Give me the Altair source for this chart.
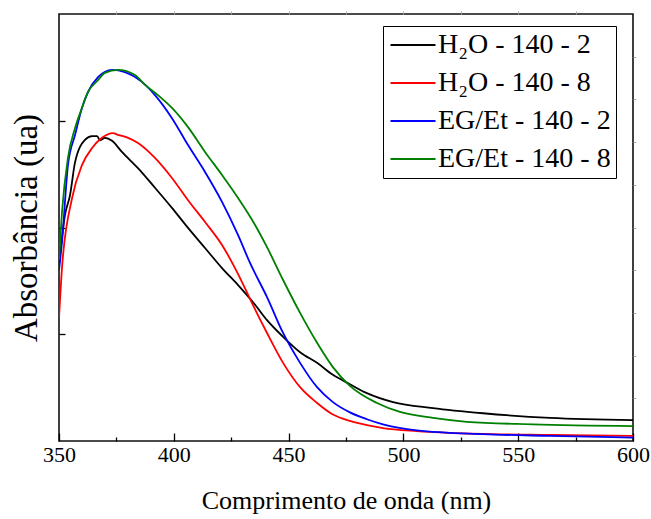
import altair as alt
import pandas as pd

series_names = ["H₂O - 140 - 2", "H₂O - 140 - 8", "EG/Et - 140 - 2", "EG/Et - 140 - 8"]
series_colors = ["#000000", "#FF0000", "#0000FF", "#008000"]

black_nm = [350.0, 352.6, 354.8, 357.0, 361.3, 364.4, 366.6, 367.9, 370.0, 373.1, 377.4, 384.4, 391.8,
            399.2, 406.2, 413.6, 421.0, 428.0, 435.4, 440.6, 447.6, 455.0, 462.4, 469.3, 476.7, 484.1,
            495.5, 512.9, 534.7, 563.9, 600.0]
black_abs = [0.412, 0.529, 0.576, 0.653, 0.705, 0.714, 0.714, 0.704, 0.710, 0.703, 0.677, 0.639, 0.593,
             0.546, 0.499, 0.452, 0.405, 0.365, 0.319, 0.283, 0.244, 0.208, 0.183, 0.155, 0.133, 0.112,
             0.091, 0.077, 0.065, 0.054, 0.049]

red_nm = [350.0, 351.3, 355.7, 360.0, 364.4, 368.7, 373.5, 375.7, 380.1, 384.4, 391.8, 399.2, 406.2,
          413.6, 421.0, 428.0, 434.5, 440.6, 447.6, 455.0, 462.4, 469.3, 476.7, 484.1, 491.1, 505.9,
          520.3, 563.9, 600.0]
red_abs = [0.288, 0.405, 0.569, 0.646, 0.686, 0.710, 0.721, 0.717, 0.710, 0.698, 0.663, 0.616, 0.564,
           0.513, 0.459, 0.391, 0.318, 0.253, 0.183, 0.126, 0.089, 0.062, 0.047, 0.037, 0.030, 0.023,
           0.019, 0.014, 0.012]

blue_nm = [350.0, 351.3, 353.9, 357.0, 360.0, 362.6, 367.0, 373.1, 378.7, 386.1, 391.8, 399.2, 406.2,
           413.6, 421.0, 428.0, 433.2, 440.6, 447.6, 455.0, 462.4, 469.3, 476.7, 484.1, 491.1, 505.9,
           534.7, 563.9, 600.0]
blue_abs = [0.400, 0.466, 0.646, 0.717, 0.780, 0.817, 0.852, 0.869, 0.864, 0.841, 0.810, 0.756, 0.693,
            0.630, 0.560, 0.482, 0.417, 0.337, 0.253, 0.183, 0.126, 0.091, 0.067, 0.051, 0.039, 0.025,
            0.016, 0.012, 0.008]

green_nm = [350.0, 351.3, 353.9, 357.0, 360.0, 362.6, 367.0, 370.0, 375.7, 383.1, 387.5, 393.1, 399.2,
            406.2, 413.6, 421.0, 428.0, 435.4, 440.6, 447.6, 455.0, 462.4, 469.3, 476.7, 488.5, 498.5,
            512.9, 527.6, 556.4, 600.0]
green_abs = [0.424, 0.536, 0.663, 0.733, 0.780, 0.817, 0.845, 0.862, 0.869, 0.857, 0.834, 0.810, 0.780,
             0.735, 0.677, 0.623, 0.569, 0.506, 0.454, 0.377, 0.300, 0.230, 0.173, 0.129, 0.089, 0.068,
             0.054, 0.045, 0.039, 0.035]

x_major = [350, 400, 450, 500, 550, 600]
x_minor = [375, 425, 475, 525, 575]
x_top = [375, 400, 425, 450, 475, 500, 525, 550, 575]
y_left = [0.25, 0.5, 0.75]
y_right = [0.1, 0.2, 0.3, 0.4, 0.5, 0.6, 0.7, 0.8, 0.9]

rows = []
for name, nms, vals in zip(series_names,
                           [black_nm, red_nm, blue_nm, green_nm],
                           [black_abs, red_abs, blue_abs, green_abs]):
    for x, y in zip(nms, vals):
        rows.append({"serie": name, "nm": x, "abs": y})
df = pd.DataFrame(rows)

FONT = "Liberation Serif"
xs = alt.Scale(domain=[350, 600], nice=False, zero=False)
ys = alt.Scale(domain=[0, 1], nice=False, zero=False)

base = alt.Chart(df)

main = base.mark_line(strokeWidth=1.8, clip=True, interpolate="monotone").encode(
    x=alt.X("nm:Q", scale=xs, axis=alt.Axis(
        orient="bottom", values=x_major, offset=-8, tickSize=8, tickWidth=1.3, tickColor="black",
        domain=False, grid=False, labelFont=FONT, labelFontSize=22, labelColor="black",
        labelFlush=False, labelOverlap=False,
        labelPadding=3, title="Comprimento de onda (nm)", titleFont=FONT, titleFontSize=26,
        titleFontWeight="normal", titleColor="black", titlePadding=22)),
    y=alt.Y("abs:Q", scale=ys, axis=alt.Axis(
        orient="left", values=y_left, offset=-6, tickSize=6, tickWidth=1.3, tickColor="black",
        domain=False, grid=False, labels=False, title="Absorbância (ua)", titleFont=FONT,
        titleFontSize=33, titleFontWeight="normal", titleColor="black", titlePadding=15)),
    color=alt.Color("serie:N", scale=alt.Scale(domain=series_names, range=series_colors),
                    legend=alt.Legend(orient="none", legendX=324, legendY=12, title=None,
                                      symbolType="M-2,0H2", symbolSize=506, symbolStrokeWidth=2,
                                      symbolOffset=11, labelFont=FONT, labelFontSize=28,
                                      labelColor="black", labelLimit=400, labelOffset=11,
                                      rowPadding=10, padding=5,
                                      strokeColor="black", fillColor="white")),
)

minor = base.mark_line(opacity=0).encode(
    x=alt.X("nm:Q", scale=xs, axis=alt.Axis(
        orient="bottom", values=x_minor, offset=-4, tickSize=4, tickWidth=1.3, tickColor="black",
        domain=False, grid=False, labels=False, title=None)),
    y=alt.Y("abs:Q", scale=ys, axis=alt.Axis(
        orient="right", values=y_right, tickSize=3, tickWidth=1, tickColor="#aaaaaa",
        domain=False, grid=False, labels=False, title=None)),
    detail="serie:N",
)

top = base.mark_line(opacity=0).encode(
    x=alt.X("nm:Q", scale=xs, axis=alt.Axis(
        orient="top", values=x_top, tickSize=3, tickWidth=1, tickColor="#aaaaaa",
        domain=False, grid=False, labels=False, title=None)),
    y=alt.Y("abs:Q", scale=ys, axis=None),
    detail="serie:N",
)

chart = alt.layer(main, minor, top).resolve_axis(
    x="independent", y="independent"
).properties(
    width=574, height=427,
    padding={"left": 59, "top": 14, "right": 18, "bottom": 78},
    autosize=alt.AutoSizeParams(type="none"),
    background="white",
).configure_view(stroke="#111111", strokeWidth=1.6)

chart.save("out.html", embed_options={"renderer": "svg", "actions": False})
